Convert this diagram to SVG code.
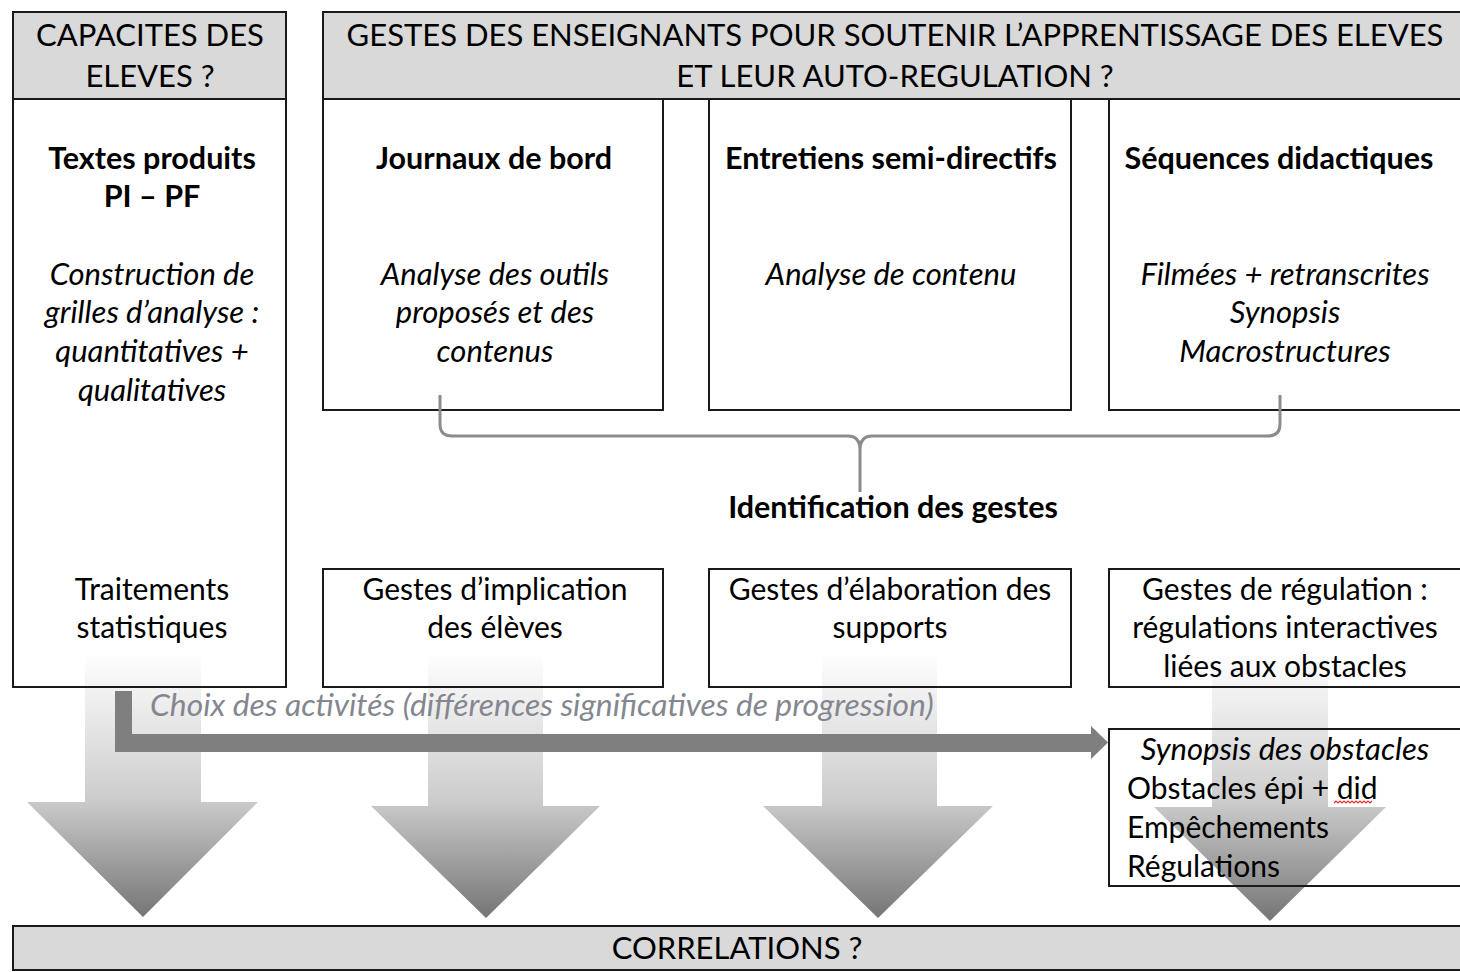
<svg xmlns="http://www.w3.org/2000/svg" width="1460" height="972" viewBox="0 0 1460 972">
<style>
.box{fill:none;stroke:#1a1a1a;stroke-width:2}
.hbox{fill:#d9d9d9;stroke:#1a1a1a;stroke-width:2}
text{font-family:Lato,"Liberation Sans",sans-serif;fill:#000}
.h{font-size:31px;text-anchor:middle}
.b{font-size:30.5px;font-weight:bold;text-anchor:middle}
.i{font-size:31px;font-style:italic;text-anchor:middle}
.r{font-size:30px;text-anchor:middle}
.l{font-size:30px}
.big{fill:url(#g)}
</style>
<defs>
<linearGradient id="g" x1="0" y1="0" x2="0" y2="1">
<stop offset="0" stop-color="#ffffff"/>
<stop offset="0.55" stop-color="#cdcdcd"/>
<stop offset="1" stop-color="#757575"/>
</linearGradient>
</defs>
<rect x="0" y="0" width="1460" height="972" fill="#fff"/>

<g id="flow-arrows">
<path class="big" d="M85,652 H201 V802 H258 L143,917 L27,802 H85 Z"/>
<path class="big" d="M428,652 H543 V806 H600 L486,918 L371,806 H428 Z"/>
<path class="big" d="M822,652 H937 V806 H993 L878,918 L763,806 H822 Z"/>
<path class="big" d="M1212,652 H1328 V807 H1386 L1270,921 L1154,807 H1212 Z"/>
</g>

<g id="capacites">
<rect class="hbox" x="13" y="12" width="273" height="87"/>
<rect class="box" x="13" y="99" width="273" height="588"/>
<text class="h" x="150" y="46">CAPACITES DES</text>
<text class="h" x="150" y="87">ELEVES ?</text>
<text class="b" x="152" y="169">Textes produits</text>
<text class="b" x="152" y="207">PI – PF</text>
<text class="i" x="152" y="285">Construction de</text>
<text class="i" x="152" y="323">grilles d’analyse :</text>
<text class="i" x="152" y="362">quantitatives +</text>
<text class="i" x="152" y="401">qualitatives</text>
<text class="r" x="152" y="600">Traitements</text>
<text class="r" x="152" y="638">statistiques</text>
</g>

<g id="gestes-header">
<rect class="hbox" x="323" y="12" width="1145" height="87"/>
<text class="h" x="895" y="46">GESTES DES ENSEIGNANTS POUR SOUTENIR L’APPRENTISSAGE DES ELEVES</text>
<text class="h" x="895" y="87">ET LEUR AUTO-REGULATION ?</text>
</g>

<g id="journaux">
<rect class="box" x="323" y="99" width="340" height="311"/>
<text class="b" x="494" y="169">Journaux de bord</text>
<text class="i" x="495" y="285">Analyse des outils</text>
<text class="i" x="495" y="323">proposés et des</text>
<text class="i" x="495" y="362">contenus</text>
</g>

<g id="entretiens">
<rect class="box" x="709" y="99" width="362" height="311"/>
<text class="b" x="891" y="169">Entretiens semi-directifs</text>
<text class="i" x="891" y="285">Analyse de contenu</text>
</g>

<g id="sequences">
<rect class="box" x="1109" y="99" width="360" height="311"/>
<text class="b" x="1279" y="169">Séquences didactiques</text>
<text class="i" x="1285" y="285">Filmées + retranscrites</text>
<text class="i" x="1285" y="323">Synopsis</text>
<text class="i" x="1285" y="362">Macrostructures</text>
</g>

<g id="implication">
<rect class="box" x="323" y="569" width="340" height="118"/>
<text class="r" x="495" y="600">Gestes d’implication</text>
<text class="r" x="495" y="638">des élèves</text>
</g>

<g id="elaboration">
<rect class="box" x="709" y="569" width="362" height="118"/>
<text class="r" x="890" y="600">Gestes d’élaboration des</text>
<text class="r" x="890" y="638">supports</text>
</g>

<g id="regulation">
<rect class="box" x="1109" y="569" width="360" height="118"/>
<text class="r" x="1285" y="600">Gestes de régulation :</text>
<text class="r" x="1285" y="638">régulations interactives</text>
<text class="r" x="1285" y="677">liées aux obstacles</text>
</g>

<g id="synopsis-obstacles">
<rect class="box" x="1109" y="729" width="360" height="157"/>
<text class="i" x="1285" y="760">Synopsis des obstacles</text>
<text class="l" x="1127" y="799">Obstacles épi + did</text>
<text class="l" x="1127" y="838">Empêchements</text>
<text class="l" x="1127" y="877">Régulations</text>
<path fill="none" stroke="#e03030" stroke-width="1.2" d="M1334,803 l2,-2 l2,2 l2,-2 l2,2 l2,-2 l2,2 l2,-2 l2,2 l2,-2 l2,2 l2,-2 l2,2 l2,-2 l2,2 l2,-2 l2,2 l2,-2 l2,2 l2,-2"/>
</g>

<g id="correlations">
<rect class="hbox" x="13" y="926" width="1455" height="44"/>
<text class="h" x="737" y="959">CORRELATIONS ?</text>
</g>

<g id="connectors">
<path fill="none" stroke="#8c8c8c" stroke-width="3" d="M440,395 V424 Q440,436 452,436 H848 Q860,436 860,450 V492 M860,450 Q860,436 872,436 H1268 Q1280,436 1280,424 V395"/>
<path fill="#7f7f7f" d="M115,691 H132 V734 H1091 V726 L1108,742.5 L1091,759 V752 H115 Z"/>
</g>

<g id="labels">
<text class="b" x="893" y="518">Identification des gestes</text>
<text class="l" x="150" y="716" style="font-size:31.8px;font-style:italic;fill:#84878f">Choix des activités (différences significatives de progression)</text>
</g>
</svg>
